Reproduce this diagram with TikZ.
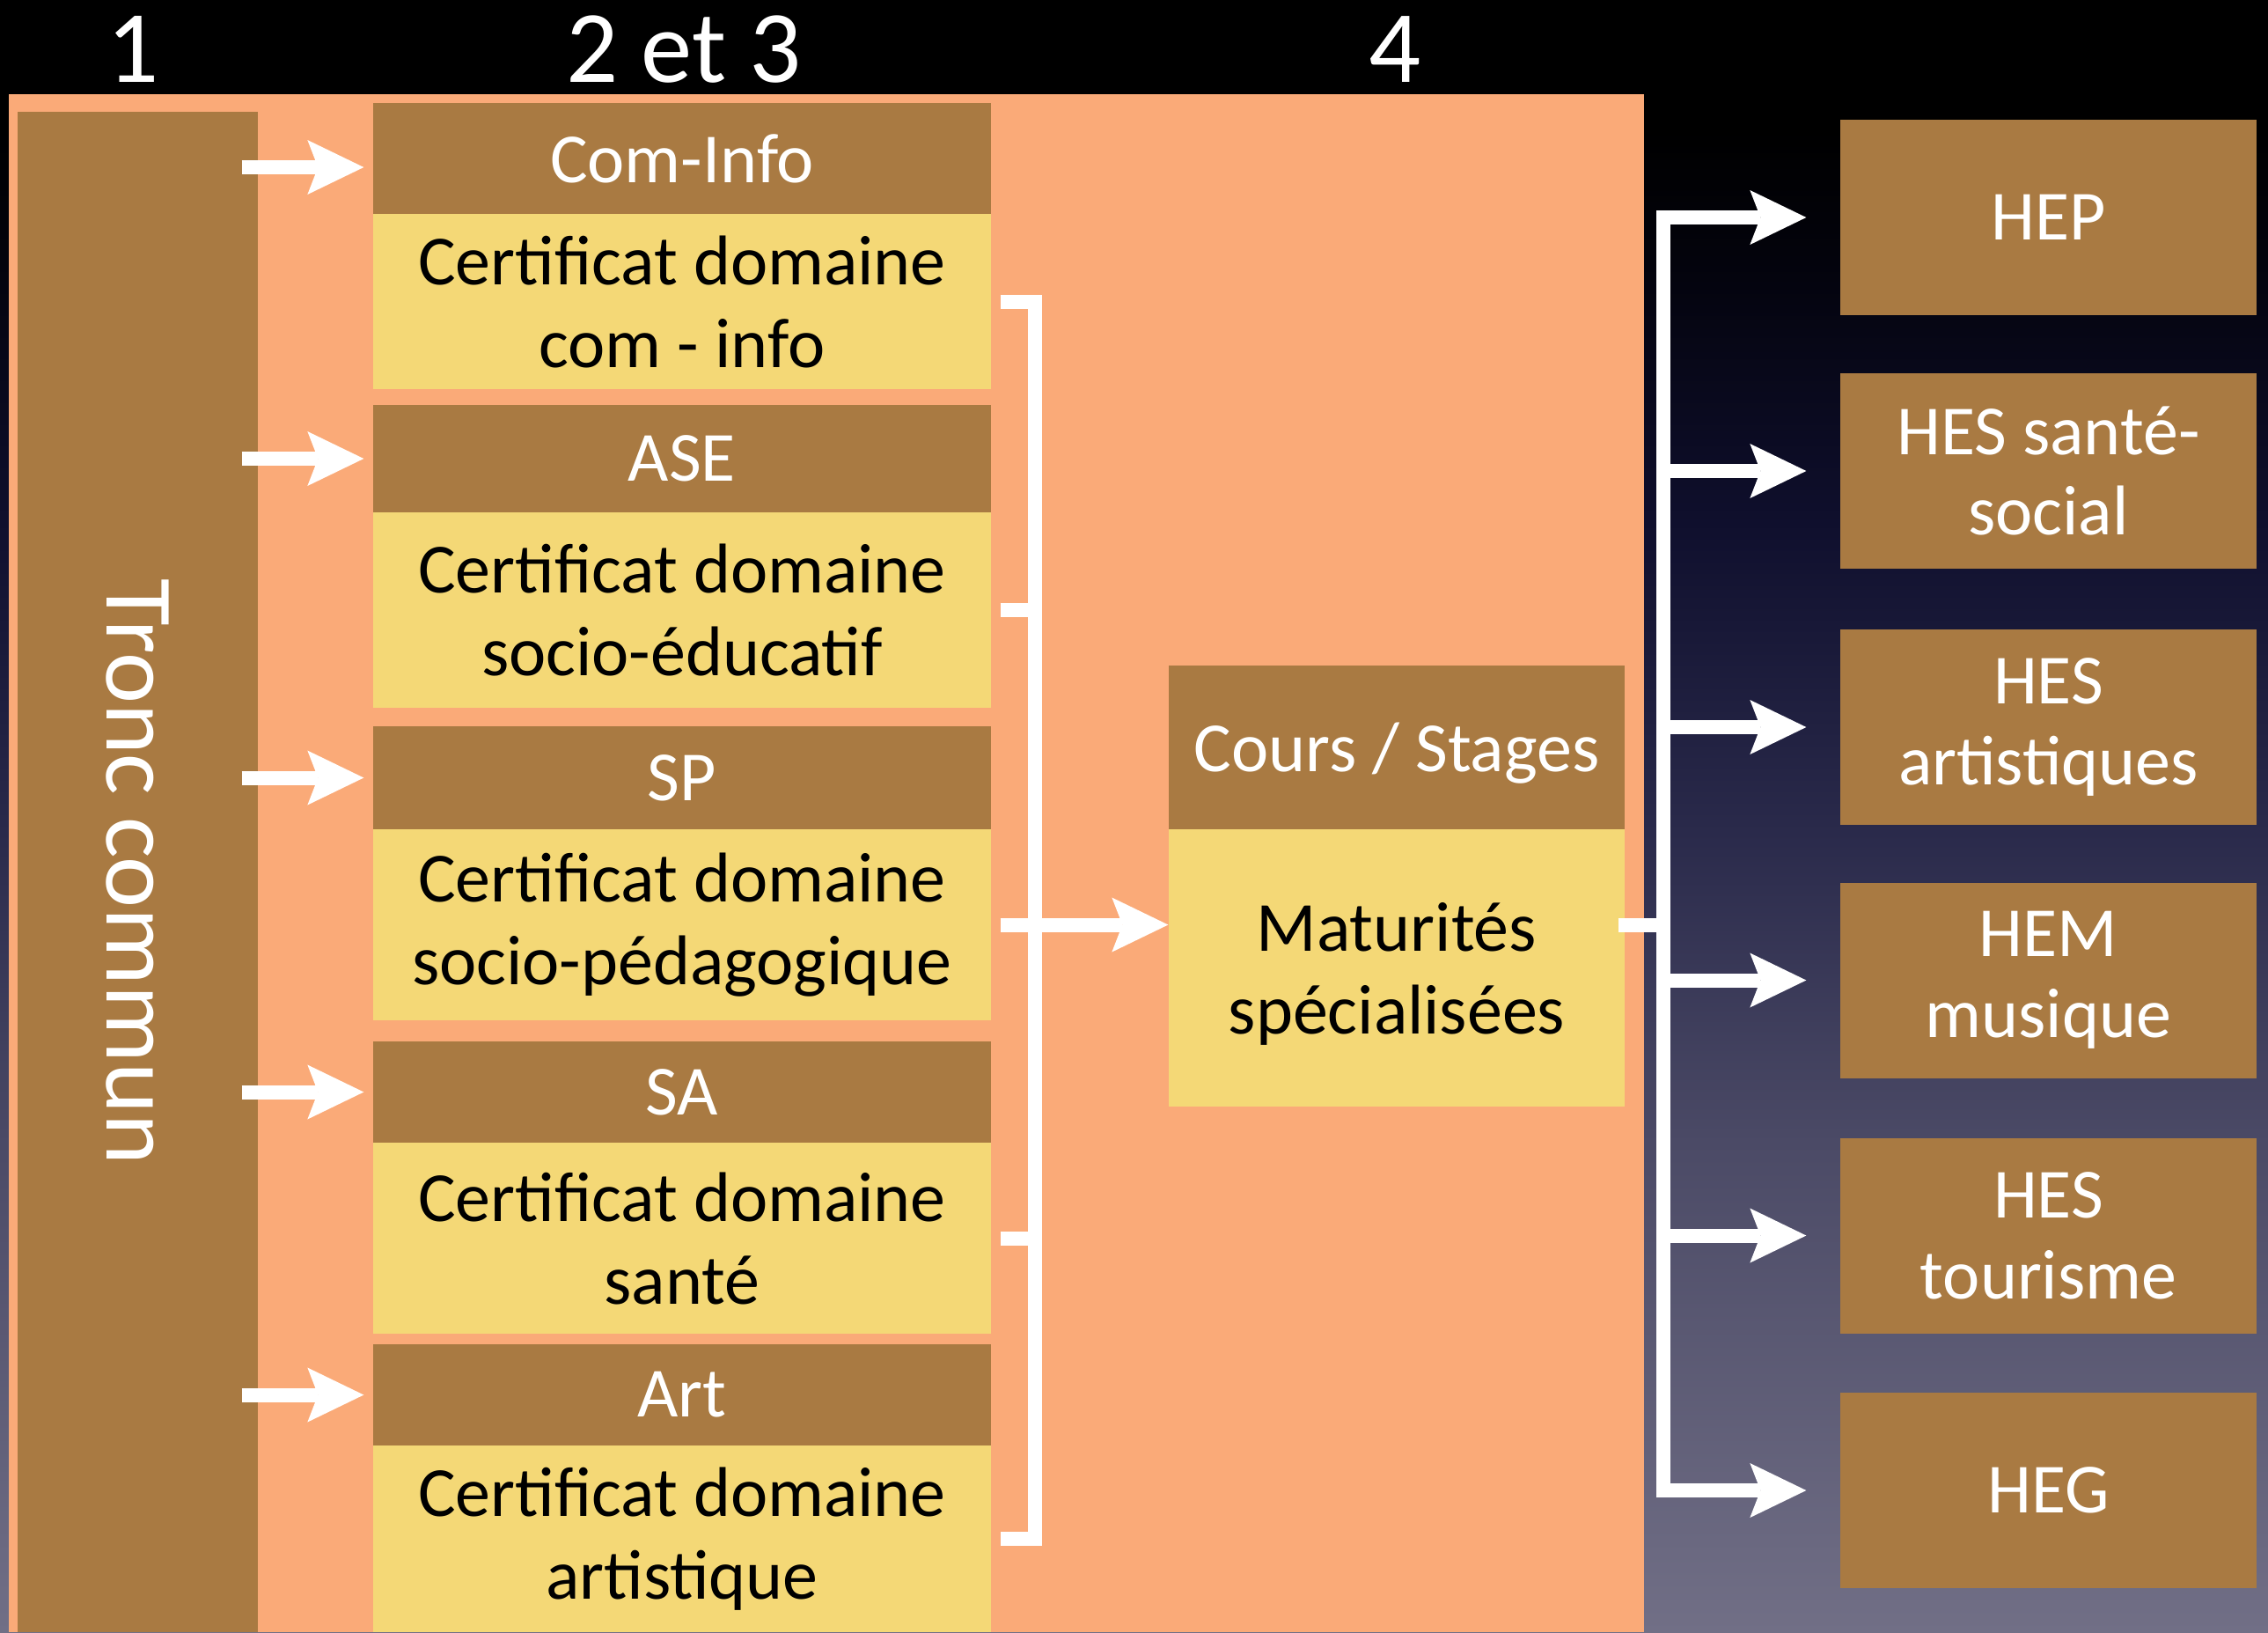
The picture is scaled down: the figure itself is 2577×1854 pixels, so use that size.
\documentclass[tikz,border=0pt]{standalone}
\usepackage{fontspec}
\setmainfont{Carlito}
\usetikzlibrary{arrows.meta,calc}
\definecolor{brownbox}{RGB}{169,122,66}
\definecolor{salmon}{RGB}{250,170,120}
\definecolor{yell}{RGB}{244,216,118}
\definecolor{bgA}{RGB}{113,111,134}
\definecolor{bgB}{RGB}{75,74,102}
\definecolor{bgC}{RGB}{42,42,75}
\definecolor{bgD}{RGB}{15,15,45}
\definecolor{bgE}{RGB}{3,3,12}
\pgfdeclareverticalshading{bgshade}{100bp}{color(0bp)=(bgA); color(25bp)=(bgA); color(40bp)=(bgB); color(49.5bp)=(bgC); color(59bp)=(bgD); color(67bp)=(bgE); color(71bp)=(black); color(100bp)=(black)}
\begin{document}
\begin{tikzpicture}[x=0.3pt,y=-0.3pt,
  hdr/.style={fill=brownbox, text=white, minimum width=210.6pt, inner sep=0pt, font=\fontsize{24}{28}\selectfont, align=center},
  cert/.style={fill=yell, text=black, minimum width=210.6pt, inner sep=0pt, font=\fontsize{24}{28.2}\selectfont, align=center},
  dest/.style={fill=brownbox, text=white, minimum width=141.9pt, minimum height=66.6pt, inner sep=0pt, font=\fontsize{24}{27.5}\selectfont, align=center},
  wline/.style={draw=white, line width=4.8pt},
  warrow/.style={draw=white, line width=4.8pt, -{Stealth[length=19.2pt,width=18.6pt,inset=3.6pt,line width=0pt]}},
  colhead/.style={text=white, inner sep=0pt, font=\fontsize{35}{35}\selectfont}
]
\useasboundingbox (0,0) rectangle (2577,1854);
\shade[shading=bgshade] (0,0) rectangle (2577,1854);
\fill[salmon] (10,107) rectangle (1868,1854);

% column headings
\node[colhead] (c1) at (151,56) {1};
\node[colhead] (c23) at (777,56) {2 et 3};
\node[colhead] (c4) at (1585,56) {4};

% tronc commun
\node[fill=brownbox, text=white, minimum width=81.9pt, minimum height=518.1pt, inner sep=0pt,
      font=\fontsize{33}{33}\selectfont] (tronc) at (156.5,990.5) {\rotatebox{-90}{Tronc commun}};

% domains
\node[hdr, minimum height=37.8pt] (ciH) at (775,180) {Com-Info};
\node[cert, minimum height=59.7pt] (ciY) at (775,342.5) {Certificat domaine\\com - info};
\node[hdr, minimum height=36.6pt] (aseH) at (775,521) {ASE};
\node[cert, minimum height=66.6pt] (aseY) at (775,693) {Certificat domaine\\socio-éducatif};
\node[hdr, minimum height=35.1pt] (spH) at (775,883.5) {SP};
\node[cert, minimum height=65.1pt] (spY) at (775,1050.5) {Certificat domaine\\socio-pédagogique};
\node[hdr, minimum height=34.5pt] (saH) at (775,1240.5) {SA};
\node[cert, minimum height=65.1pt] (saY) at (775,1406.5) {Certificat domaine\\santé};
\node[hdr, minimum height=34.5pt] (artH) at (775,1584.5) {Art};
\node[cert, minimum height=63.6pt] (artY) at (775,1748) {Certificat domaine\\artistique};

% maturites
\node[hdr, minimum width=155.4pt, minimum height=55.8pt, text depth=0pt] (csH) at (1587,849) {Cours / Stages};
\node[cert, minimum width=155.4pt, minimum height=94.5pt, text depth=0pt] (matY) at (1587,1099.5) {Maturités\\spécialisées};

% destinations
\node[dest] (hep) at (2327.5,247) {HEP};
\node[dest] (hess) at (2327.5,535) {HES santé-\\social};
\node[dest] (hesa) at (2327.5,826) {HES\\artistiques};
\node[dest] (hem) at (2327.5,1113.5) {HEM\\musique};
\node[dest] (hest) at (2327.5,1403.5) {HES\\tourisme};
\node[dest] (heg) at (2327.5,1693) {HEG};

% arrows from tronc commun
\draw[warrow] ($(tronc.east |- ciH.west)+(-19,10)$) -- ($(ciH.west)+(-10,10)$);
\foreach \n in {aseH,spH,saH,artH}
  \draw[warrow] ($(tronc.east |- \n.west)+(-19,0)$) -- ($(\n.west)+(-10,0)$);

% bracket
\coordinate (bx) at (1176,0);
\draw[wline] ($(ciY.east)+(10,0)$) -- (ciY.east -| bx) -- (artY.east -| bx) -- ($(artY.east)+(10,0)$);
\draw[wline] ($(aseY.east)+(10,0)$) -- (aseY.east -| bx);
\draw[wline] ($(saY.east)+(10,0)$) -- (saY.east -| bx);
\draw[warrow] ($(spY.east)+(10,0)$) -- (spY.east -| matY.west);

% distribution
\coordinate (rx) at (1890,0);
\draw[wline] ($(spY.east -| matY.east)+(-8,0)$) -- (spY.east -| rx);
\draw[wline, line cap=rect] (hep.west -| rx) -- (heg.west -| rx);
\foreach \n in {hep,hess,hesa,hem,hest,heg}
  \draw[warrow] (\n.west -| rx) -- ($(\n.west)+(-38,0)$);
\end{tikzpicture}
\end{document}
